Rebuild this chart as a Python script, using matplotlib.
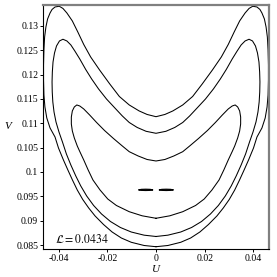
import matplotlib
matplotlib.use("Agg")
import matplotlib.pyplot as plt

plt.rcParams['font.family'] = 'serif'
plt.rcParams['font.serif'] = ['Liberation Serif', 'DejaVu Serif']
plt.rcParams['mathtext.fontset'] = 'stix'

# outer crescent (closed loop)
a_u = [0.0, -0.00488, -0.01016, -0.01423, -0.01801, -0.02154, -0.02500, -0.02764, -0.03008, -0.03232,
       -0.03431, -0.03618, -0.03801, -0.04004, -0.04146, -0.04350, -0.04484, -0.04561, -0.04602, -0.04618,
       -0.04618, -0.04602, -0.04573, -0.04520, -0.04451, -0.04350, -0.04268, -0.04146, -0.03972,
       -0.03821, -0.03659, -0.03435, -0.03211, -0.02967, -0.02683, -0.02317, -0.01898, -0.01504, -0.01098,
       -0.00691, -0.00366, 0.0, 0.00366, 0.00691, 0.01098, 0.01504, 0.01898, 0.02317, 0.02683, 0.02967,
       0.03211, 0.03435, 0.03659, 0.03821,
       0.03972, 0.04146, 0.04268, 0.04350, 0.04451, 0.04520, 0.04573, 0.04602, 0.04618, 0.04618,
       0.04602, 0.04561, 0.04484, 0.04350, 0.04146, 0.04004, 0.03801, 0.03618, 0.03431, 0.03232,
       0.03008, 0.02764, 0.02500, 0.02154, 0.01801, 0.01423, 0.01016, 0.00488, 0.0]
a_v = [0.08465, 0.08490, 0.08556, 0.08644, 0.08767, 0.08921, 0.09096, 0.09261, 0.09435, 0.09630,
       0.09836, 0.10041, 0.10247, 0.10493, 0.10719, 0.10904, 0.11110, 0.11336, 0.11582, 0.11890,
       0.12199, 0.12507, 0.12774, 0.12979, 0.13144, 0.13267, 0.13339, 0.13390, 0.13405,
       0.13360, 0.13267, 0.13103, 0.12877, 0.12620, 0.12363, 0.12096, 0.11808, 0.11551, 0.11377,
       0.11254, 0.11182, 0.11136, 0.11182, 0.11254, 0.11377, 0.11551, 0.11808, 0.12096, 0.12363, 0.12620,
       0.12877, 0.13103, 0.13267, 0.13360,
       0.13405, 0.13390, 0.13339, 0.13267, 0.13144, 0.12979, 0.12774, 0.12507, 0.12199, 0.11890,
       0.11582, 0.11336, 0.11110, 0.10904, 0.10719, 0.10493, 0.10247, 0.10041, 0.09836, 0.09630,
       0.09435, 0.09261, 0.09096, 0.08921, 0.08767, 0.08644, 0.08556, 0.08490, 0.08465]

# middle crescent
b_u = [0.0, -0.00488, -0.01016, -0.01463, -0.01870, -0.02236, -0.02561, -0.02846, -0.03089, -0.03293,
       -0.03496, -0.03679, -0.03841, -0.03984, -0.04106, -0.04187, -0.04236, -0.04260, -0.04268, -0.04256,
       -0.04228, -0.04167, -0.04085, -0.03963, -0.03821,
       -0.03659, -0.03496, -0.03333, -0.03130, -0.02886, -0.02642, -0.02358, -0.02033, -0.01707, -0.01382,
       -0.01098, -0.00772, -0.00407, 0.0, 0.00407, 0.00772, 0.01098, 0.01382, 0.01707, 0.02033, 0.02358,
       0.02642, 0.02886, 0.03130, 0.03333, 0.03496, 0.03659,
       0.03821, 0.03963, 0.04085, 0.04167, 0.04228, 0.04256, 0.04268, 0.04260, 0.04236, 0.04187,
       0.04106, 0.03984, 0.03841, 0.03679, 0.03496, 0.03293, 0.03089, 0.02846, 0.02561, 0.02236,
       0.01870, 0.01463, 0.01016, 0.00488, 0.0]
b_v = [0.08675, 0.08702, 0.08767, 0.08860, 0.08983, 0.09137, 0.09312, 0.09507, 0.09713, 0.09918,
       0.10144, 0.10370, 0.10617, 0.10822, 0.11028, 0.11233, 0.11438, 0.11644, 0.11849, 0.12055,
       0.12260, 0.12445, 0.12589, 0.12692, 0.12727,
       0.12692, 0.12610, 0.12486, 0.12322, 0.12106, 0.11911, 0.11706, 0.11500, 0.11325, 0.11151,
       0.11017, 0.10915, 0.10836, 0.10795, 0.10836, 0.10915, 0.11017, 0.11151, 0.11325, 0.11500, 0.11706,
       0.11911, 0.12106, 0.12322, 0.12486, 0.12610, 0.12692,
       0.12727, 0.12692, 0.12589, 0.12445, 0.12260, 0.12055, 0.11849, 0.11644, 0.11438, 0.11233,
       0.11028, 0.10822, 0.10617, 0.10370, 0.10144, 0.09918, 0.09713, 0.09507, 0.09312, 0.09137,
       0.08983, 0.08860, 0.08767, 0.08702, 0.08675]

# inner crescent
c_u = [0.0, -0.00569, -0.01098, -0.01626, -0.01980, -0.02297, -0.02589, -0.02785, -0.02967, -0.03130,
       -0.03232, -0.03354, -0.03435, -0.03476, -0.03476, -0.03435, -0.03354, -0.03252,
       -0.03130, -0.02967, -0.02724, -0.02439, -0.02114, -0.01748, -0.01382, -0.01098, -0.00732, -0.00366,
       0.0, 0.00366, 0.00732, 0.01098, 0.01382, 0.01748, 0.02114, 0.02439, 0.02724, 0.02967, 0.03130,
       0.03252, 0.03354, 0.03435, 0.03476, 0.03476, 0.03435, 0.03354, 0.03232, 0.03130,
       0.02967, 0.02785, 0.02589, 0.02297, 0.01980, 0.01626, 0.01098, 0.00569, 0.0]
c_v = [0.09049, 0.09100, 0.09184, 0.09312, 0.09445, 0.09630, 0.09836, 0.10041, 0.10247, 0.10421,
       0.10534, 0.10699, 0.10843, 0.10986, 0.11130, 0.11254, 0.11336, 0.11377,
       0.11356, 0.11295, 0.11171, 0.11017, 0.10853, 0.10689, 0.10534, 0.10417, 0.10329, 0.10257,
       0.10226, 0.10257, 0.10329, 0.10417, 0.10534, 0.10689, 0.10853, 0.11017, 0.11171, 0.11295, 0.11356,
       0.11377, 0.11336, 0.11254, 0.11130, 0.10986, 0.10843, 0.10699, 0.10534, 0.10421,
       0.10247, 0.10041, 0.09836, 0.09630, 0.09445, 0.09312, 0.09184, 0.09100, 0.09049]

# two small islands near the centre
left_u = [-0.0072, -0.0060, -0.0042, -0.0024, -0.0012, -0.0024, -0.0042, -0.0060, -0.0072]
left_v = [0.09632, 0.09644, 0.09647, 0.09644, 0.09632, 0.09622, 0.09619, 0.09622, 0.09632]
right_u = [0.0012, 0.0024, 0.0042, 0.0060, 0.0072, 0.0060, 0.0042, 0.0024, 0.0012]
right_v = [0.09632, 0.09644, 0.09647, 0.09644, 0.09632, 0.09622, 0.09619, 0.09622, 0.09632]

x_ticks = [-0.04, -0.02, 0, 0.02, 0.04]
x_labels = ['-0.04', '-0.02', '0', '0.02', '0.04']
y_ticks = [0.085, 0.09, 0.095, 0.1, 0.105, 0.11, 0.115, 0.12, 0.125, 0.13]
y_labels = ['0.085', '0.09', '0.095', '0.1', '0.105', '0.11', '0.115', '0.12', '0.125', '0.13']

fig = plt.figure(figsize=(2.77, 2.77), dpi=100)
ax = fig.add_axes([0.1552, 0.1011, 0.8159, 0.8809])

for u, v in [(a_u, a_v), (b_u, b_v), (c_u, c_v)]:
    ax.plot(u, v, color='black', lw=0.75)
for u, v in [(left_u, left_v), (right_u, right_v)]:
    ax.fill(u, v, facecolor='black', edgecolor='black', lw=0.8)

ax.set_xlim(-0.0464, 0.0464)
ax.set_ylim(0.08418, 0.13431)
ax.set_xticks(x_ticks)
ax.set_xticklabels(x_labels)
ax.set_yticks(y_ticks)
ax.set_yticklabels(y_labels)
ax.tick_params(direction='out', length=2.5, width=0.7, labelsize=7, pad=1)

for side in ['top', 'right']:
    ax.spines[side].set_color('#808080')
    ax.spines[side].set_linewidth(1.6)
for side in ['left', 'bottom']:
    ax.spines[side].set_color('black')
    ax.spines[side].set_linewidth(0.8)

ax.set_xlabel('U', style='italic', fontsize=8)
ax.xaxis.set_label_coords(0.5, -0.085)
ax.xaxis.label.set_va('center')
ax.set_ylabel('V', style='italic', fontsize=8, rotation=0)
ax.yaxis.set_label_coords(-0.155, 0.5)
ax.yaxis.label.set_va('center')
ax.yaxis.label.set_ha('center')

ax.text(-0.0415, 0.0855, r'$\mathcal{L} = 0.0434$', fontsize=8.5, va='baseline', ha='left')

fig.savefig('out.png', dpi=100)
